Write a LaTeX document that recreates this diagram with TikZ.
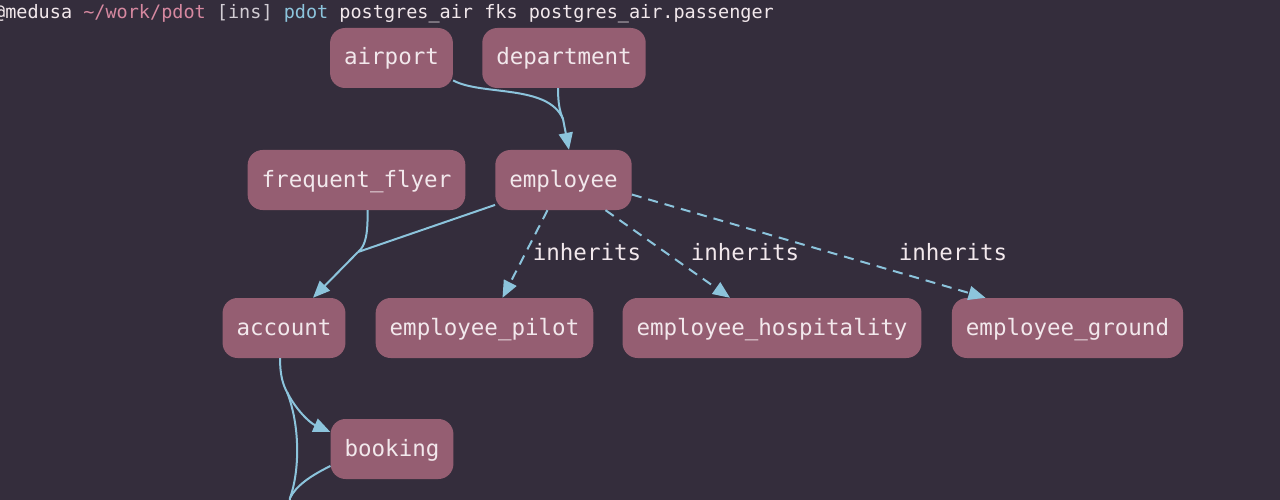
\documentclass[tikz,border=0pt]{standalone}
\usepackage{fontspec}
\setmonofont{DejaVu Sans Mono}
\usetikzlibrary{arrows.meta}
\definecolor{bg}{RGB}{52,45,60}
\definecolor{nodefill}{RGB}{149,94,114}
\definecolor{edgec}{RGB}{140,196,220}
\definecolor{txt}{RGB}{242,232,236}
\definecolor{promptpink}{RGB}{214,136,160}
\definecolor{promptblue}{RGB}{140,196,220}
\definecolor{promptgrey}{RGB}{210,205,212}
\begin{document}
\begin{tikzpicture}[x=1pt,y=-1pt,
  tbl/.style={fill=nodefill, rounded corners=15pt, minimum height=60pt,
    inner xsep=14pt, inner ysep=0pt, text=txt, text height=17pt, text depth=3pt,
    font=\ttfamily\fontsize{22.5}{27}\selectfont},
  edge/.style={draw=edgec, line width=2pt},
  arr/.style={edge, -{Triangle[length=17pt,width=14pt]}},
  inh/.style={arr, dash pattern=on 10pt off 7pt},
  lbl/.style={text=txt, inner sep=0pt, text height=15pt, text depth=0pt,
    font=\ttfamily\fontsize{22.5}{27}\selectfont},
  prompt/.style={text=txt, inner sep=0pt, anchor=base west, font=\ttfamily\fontsize{18.5}{22}\selectfont}]
\fill[bg] (0,0) rectangle (1280,500);
\clip (0,0) rectangle (1280,500);

\node[prompt] (cmd) at (-6,19) {@medusa {\color{promptpink}\string~/work/pdot} {\color{promptgrey}[ins]} {\color{promptblue}pdot} postgres\_air fks postgres\_air.passenger};

\node[tbl] (airport) at (391.5,58) {airport};
\node[tbl] (department) at (564,58) {department};
\node[tbl] (frequent_flyer) at (356.5,180) {frequent\_flyer};
\node[tbl] (employee) at (563.5,180) {employee};
\node[tbl] (account) at (284,328) {account};
\node[tbl] (employee_pilot) at (484.5,328) {employee\_pilot};
\node[tbl] (employee_hospitality) at (772,328) {employee\_hospitality};
\node[tbl] (employee_ground) at (1067.5,328) {employee\_ground};
\node[tbl] (booking) at (392,449) {booking};

% airport / department -> employee
\coordinate (m1) at (563,119);
\draw[edge] (airport.-20) .. controls (482,96) and (548,84) .. (m1);
\draw[edge] ([xshift=-6pt]department.south) .. controls (558,104) and (560,112) .. (m1);
\draw[arr] (m1) -- ([xshift=5.5pt]employee.north);

% frequent_flyer / employee -> account
\coordinate (m2) at (358,252);
\draw[edge] ([xshift=11pt]frequent_flyer.south) .. controls (368,232) and (366,246) .. (m2);
\draw[edge] (employee.-160) -- (m2);
\draw[arr] (m2) -- ([xshift=29pt]account.north);

% inherits
\draw[inh] ([xshift=-16pt]employee.south) -- ([xshift=18pt]employee_pilot.north);
\draw[inh] ([xshift=42pt]employee.south) -- ([xshift=-42pt]employee_hospitality.north);
\draw[inh] (employee.-12) -- ([xshift=-82pt]employee_ground.north);
\node[lbl] (l1) at (587,253) {inherits};
\node[lbl] (l2) at (745,253) {inherits};
\node[lbl] (l3) at (953,253) {inherits};

% account -> booking, and edges leaving the bottom
\coordinate (b1) at (287,392);
\coordinate (m3) at (290,498);
\coordinate (offbottom) at (287,530);
\draw[edge] ([xshift=-4pt]account.south) .. controls (280,375) and (283,385) .. (b1);
\draw[arr] (b1) .. controls (296,410) and (310,423) .. ([yshift=17pt]booking.west);
\draw[edge] (b1) .. controls (300,425) and (300,470) .. (m3);
\draw[edge] ([yshift=-17pt]booking.west) .. controls (310,476) and (296,486) .. (m3);
\draw[edge] (m3) -- (offbottom);
\end{tikzpicture}
\end{document}
